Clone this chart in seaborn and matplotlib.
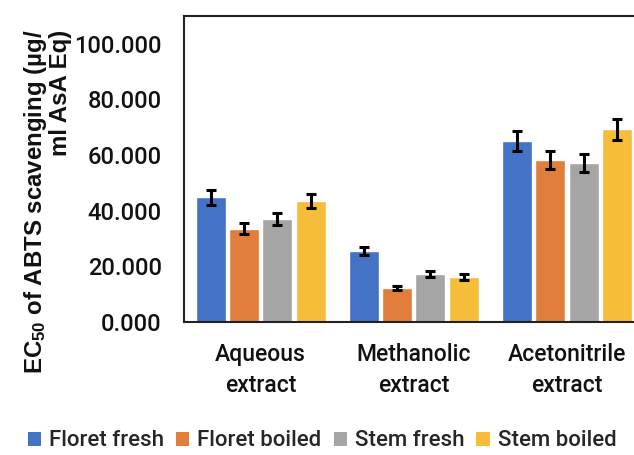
import matplotlib
matplotlib.use("Agg")
import matplotlib.pyplot as plt
from matplotlib.patches import Patch
import numpy as np
import pandas as pd
import seaborn as sns

# Extract types (x categories) and sample groups (hue)
extracts = ["Aqueous\nextract", "Methanolic\nextract", "Acetonitrile\nextract"]
samples = ["Floret fresh", "Floret boiled", "Stem fresh", "Stem boiled"]

# EC50 values (µg/ml AsA Eq), one list per sample, ordered by extract
floret_fresh = [44.8, 25.4, 65.0]
floret_boiled = [33.5, 12.3, 58.2]
stem_fresh = [36.9, 17.1, 57.3]
stem_boiled = [43.4, 16.3, 69.3]

# Standard deviations for the error bars
floret_fresh_sd = [2.6, 1.4, 3.5]
floret_boiled_sd = [2.0, 0.8, 3.2]
stem_fresh_sd = [2.2, 1.1, 3.2]
stem_boiled_sd = [2.5, 1.1, 3.8]

yticks = [0, 20, 40, 60, 80, 100]
colors = ["#4472C4", "#E17E3B", "#A5A5A5", "#F5BD3A"]

values = [floret_fresh, floret_boiled, stem_fresh, stem_boiled]
errors = [floret_fresh_sd, floret_boiled_sd, stem_fresh_sd, stem_boiled_sd]

df = pd.DataFrame({
    "extract": [e for _ in samples for e in extracts],
    "sample": [s for s in samples for _ in extracts],
    "ec50": [v for vals in values for v in vals],
})

sns.set_theme(style="white")
plt.rcParams["font.family"] = ["Roboto", "DejaVu Sans"]
plt.rcParams["font.weight"] = "medium"
plt.rcParams["mathtext.fontset"] = "custom"
plt.rcParams["mathtext.bf"] = "Liberation Sans:bold"

fig = plt.figure(figsize=(6.34, 4.55), dpi=100)
ax = fig.add_axes([184 / 634, 133 / 455, (643.5 - 184) / 634, 306 / 455])

sns.barplot(data=df, x="extract", y="ec50", hue="sample", order=extracts,
            hue_order=samples, palette=colors, width=0.87, gap=0.1,
            errorbar=None, saturation=1, legend=False, ax=ax)

# Error bars centred on each bar of each hue container
for container, errs in zip(ax.containers, errors):
    xs = [p.get_x() + p.get_width() / 2 for p in container]
    hs = [p.get_height() for p in container]
    ax.errorbar(xs, hs, yerr=errs, fmt="none", ecolor="black",
                elinewidth=2.2, capsize=3.8, capthick=2.2, zorder=5)

ax.set_xlim(-0.5, 2.5)
ax.set_ylim(0, 110)
ax.set_yticks(yticks)
ax.set_yticklabels([f"{t:.3f}" for t in yticks])
ax.tick_params(axis="y", length=0, pad=16, labelsize=17, labelcolor="#111111")
ax.tick_params(axis="x", length=0, pad=15, labelsize=16.5, labelcolor="#111111")
for lbl in ax.get_xticklabels():
    lbl.set_linespacing(1.45)
ax.set_xlabel("")
ax.set_ylabel("")

for side in ["left", "top", "bottom", "right"]:
    ax.spines[side].set_color("#222222")
    ax.spines[side].set_linewidth(1.5)

fig.text(47 / 634, 1 - 202 / 455,
         r"EC$\mathbf{_{50}}$ of ABTS scavenging (µg/" + "\nml AsA Eq)",
         rotation=90, ha="center", va="center", multialignment="right",
         fontsize=17.3, fontweight="bold", family=["Liberation Sans", "DejaVu Sans"],
         linespacing=1.0, color="#111111")

handles = [Patch(facecolor=c, edgecolor="none") for c in colors]
fig.legend(handles, samples, loc="center", ncol=4,
           bbox_to_anchor=(322 / 634, 1 - 441 / 455), frameon=False,
           fontsize=16, handlelength=0.6, handleheight=0.6,
           handletextpad=0.35, columnspacing=0.55, borderaxespad=0)

fig.savefig("out.png", dpi=100)
